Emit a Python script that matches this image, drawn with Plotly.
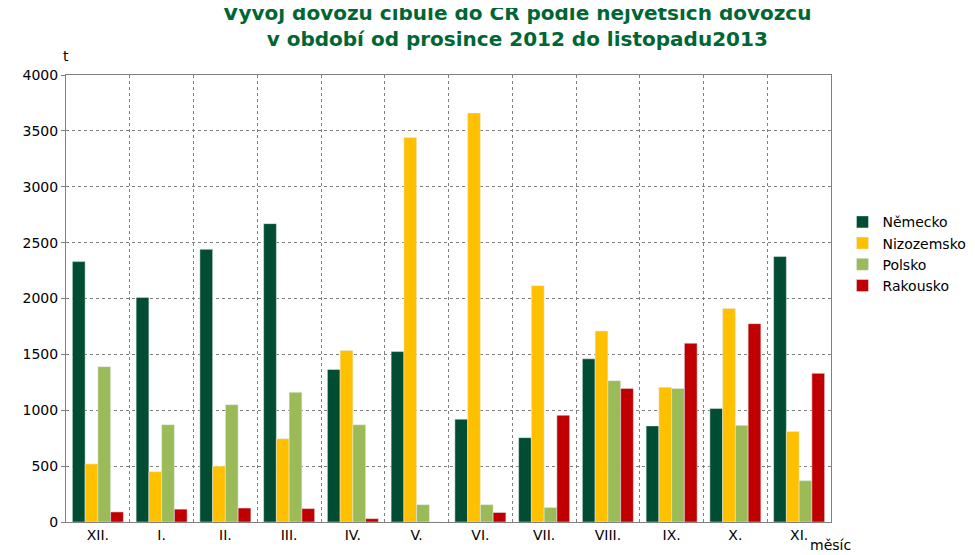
import plotly.graph_objects as go

mesice = ["XII.", "I.", "II.", "III.", "IV.", "V.", "VI.", "VII.", "VIII.", "IX.", "X.", "XI."]
nemecko = [2330, 2010, 2440, 2670, 1365, 1525, 920, 755, 1460, 860, 1015, 2375]
nizozemsko = [520, 450, 500, 745, 1535, 3440, 3660, 2115, 1710, 1205, 1910, 810]
polsko = [1390, 870, 1050, 1160, 870, 155, 155, 130, 1265, 1195, 865, 370]
rakousko = [90, 115, 125, 120, 30, 0, 85, 955, 1195, 1600, 1775, 1330]

serie = [("Německo", nemecko, "#004D33"), ("Nizozemsko", nizozemsko, "#FFC000"),
         ("Polsko", polsko, "#9BBB59"), ("Rakousko", rakousko, "#C00000")]

x = list(range(len(mesice)))
fig = go.Figure()
for name, vals, col in serie:
    fig.add_bar(x=x, y=vals, name=name, marker_color=col)

fig.update_layout(
    width=975, height=555, barmode="group", bargap=0.2, bargroupgap=0,
    plot_bgcolor="white", paper_bgcolor="white",
    font=dict(family="DejaVu Sans", size=14, color="black"),
    margin=dict(l=58, r=132, t=67, b=41),
    legend=dict(x=1.015, y=0.6, yanchor="middle", font=dict(size=14)),
    showlegend=True,
)
fig.add_annotation(text="<b>Vývoj dovozu cibule do ČR podle největších dovozců<br>v období od prosince 2012 do listopadu2013</b>",
                   xref="paper", yref="paper", x=0.59, y=1.05, xanchor="center", yanchor="bottom",
                   showarrow=False, font=dict(size=20, color="#006633"))
fig.update_xaxes(range=[-0.5, 11.5], tickvals=x, ticktext=mesice, showgrid=False,
                 showline=True, linecolor="#808080", ticks="",
                 minor=dict(tickvals=[i + 0.5 for i in x], showgrid=True,
                            gridcolor="#808080", griddash="dot"),
                 mirror=True)
fig.update_yaxes(range=[0, 4000], dtick=500, showgrid=True, gridcolor="#808080",
                 griddash="dot", showline=True, linecolor="#808080", mirror=True,
                 ticks="outside", ticklen=4, tickcolor="#808080", zeroline=False)
fig.add_annotation(text="t", xref="paper", yref="paper", x=0, y=1.02,
                   xanchor="center", yanchor="bottom", showarrow=False, font=dict(size=14))
fig.add_annotation(text="měsíc", xref="paper", yref="paper", x=0.97, y=-0.03,
                   xanchor="left", yanchor="top", showarrow=False, font=dict(size=14))
fig.write_html("out.html")
